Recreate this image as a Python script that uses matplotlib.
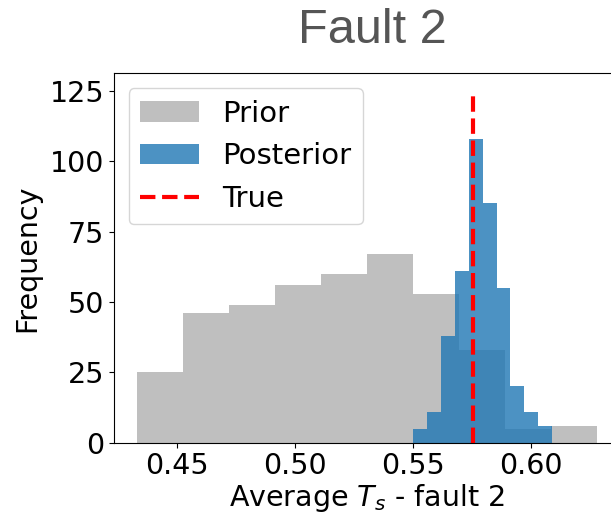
import numpy as np
import matplotlib
matplotlib.use("Agg")
import matplotlib.pyplot as plt

# Data
prior_edges = np.linspace(0.433, 0.628, 11)
prior_counts = [25, 46, 49, 56, 60, 67, 53, 33, 5, 6]
post_edges = np.linspace(0.5502, 0.6089, 11)
post_counts = [5, 11, 38, 61, 108, 85, 55, 20, 11, 6]
true_value = 0.5755
true_top = 125
xticks = [0.45, 0.50, 0.55, 0.60]
yticks = [0, 25, 50, 75, 100, 125]

fig = plt.figure(figsize=(6.11, 5.15), dpi=100)
W, H = 611, 515
ax = fig.add_axes([114 / W, 1 - 442.7 / H, (620 - 114) / W, (442.7 - 73.3) / H])

ax.hist(prior_edges[:-1], bins=prior_edges, weights=prior_counts,
        color="gray", alpha=0.5, label="Prior")
ax.hist(post_edges[:-1], bins=post_edges, weights=post_counts,
        color="tab:blue", alpha=0.8, label="Posterior")
ax.plot([true_value, true_value], [0, true_top], "r--", lw=3, label="True")

ax.set_xticks(xticks)
ax.set_xticklabels([f"{t:.2f}" for t in xticks])
ax.set_yticks(yticks)
ax.tick_params(labelsize=20.5)
ax.set_xlabel("Average $T_s$ - fault 2", fontsize=20.5, labelpad=1)
ax.set_ylabel("Frequency", fontsize=20.5, labelpad=6)
ax.spines["right"].set_visible(False)

ax.legend(loc="upper left", fontsize=21)

fig.text(372.5 / W, 1 - 43.3 / H, "Fault 2", fontsize=35, color="#555555",
         family="Liberation Sans", ha="center", va="baseline")

fig.savefig("out.png", dpi=100)
